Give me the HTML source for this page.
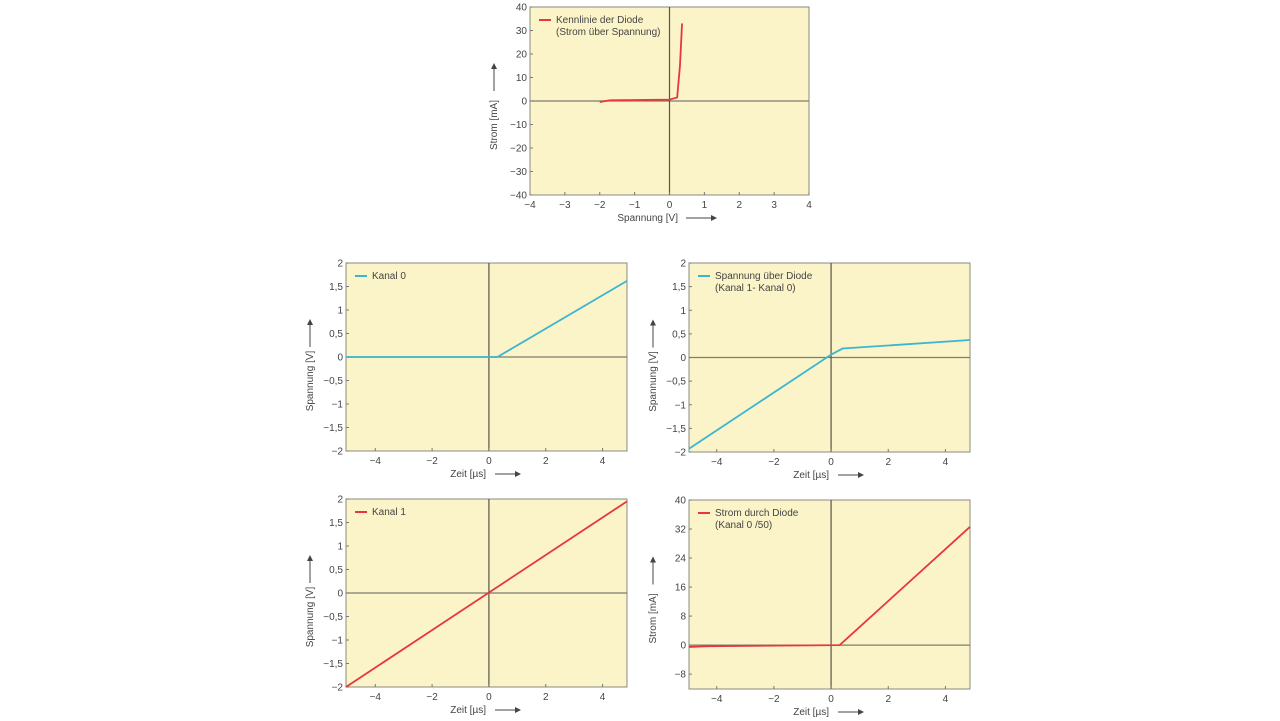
<!DOCTYPE html>
<html><head><meta charset="utf-8"><style>
html,body{margin:0;padding:0;background:#fff;}
svg{display:block;font-family:"Liberation Sans Narrow","Liberation Sans",sans-serif;}
</style></head><body>
<svg id="s" width="1280" height="721" xmlns="http://www.w3.org/2000/svg"></svg>
<script>
const s=document.getElementById('s');let h='';
const RED='#e8363f',BLUE='#3cb6d0';
function chart(o){
 const {L,R,T,B,xmin,xmax,ymin,ymax,xt,yt,xlab,ylab,leg,col,pts,te,a0,a1}=o;
 const X=v=>L+(v-xmin)/(xmax-xmin)*(R-L), Y=v=>T+(ymax-v)/(ymax-ymin)*(B-T);
 h+=`<rect x="${L}" y="${T}" width="${R-L}" height="${B-T}" fill="#fbf4c8" stroke="#8a8a80" stroke-width="1"/>`;
 h+=`<line x1="${L}" x2="${R}" y1="${Y(0)}" y2="${Y(0)}" stroke="#7c7c70" stroke-width="1.2"/>`;
 h+=`<line x1="${X(0)}" x2="${X(0)}" y1="${T}" y2="${B}" stroke="#55554c" stroke-width="1.2"/>`;
 for(const t of xt){const x=X(t);h+=`<line x1="${x}" x2="${x}" y1="${B}" y2="${B-3}" stroke="#777"/>`;
  h+=`<text x="${x}" y="${B+13}" font-size="10" text-anchor="middle" fill="#444">${String(t).replace('-','−')}</text>`;}
 for(const t of yt){const y=Y(t);h+=`<line x1="${L}" x2="${L+3}" y1="${y}" y2="${y}" stroke="#777"/>`;
  h+=`<text x="${L-3}" y="${y+3.5}" font-size="10" text-anchor="end" fill="#444">${String(t).replace('-','−').replace('.',',')}</text>`;}
 h+=`<text x="${te}" y="${B+26}" font-size="10" text-anchor="end" fill="#444">${xlab}</text>`;
 h+=`<line x1="${a0}" x2="${a1-6}" y1="${B+23}" y2="${B+23}" stroke="#444"/><path d="M${a1-6} ${B+20}L${a1} ${B+23}L${a1-6} ${B+26}Z" fill="#444"/>`;
 const lx=L-36, cy=(T+B)/2;
 h+=`<text transform="translate(${lx+3},${cy+24}) rotate(-90)" font-size="10" text-anchor="middle" fill="#444">${ylab}</text>`;
 h+=`<line x1="${lx}" x2="${lx}" y1="${cy-10}" y2="${cy-32}" stroke="#444"/><path d="M${lx-3} ${cy-32}L${lx} ${cy-38}L${lx+3} ${cy-32}Z" fill="#444"/>`;
 h+=`<line x1="${L+9}" x2="${L+21}" y1="${T+13}" y2="${T+13}" stroke="${col}" stroke-width="2"/>`;
 leg.forEach((l,i)=>h+=`<text x="${L+26}" y="${T+16+i*12}" font-size="10" fill="#444">${l}</text>`);
 h+=`<polyline points="${pts.map(p=>X(p[0])+','+Y(p[1])).join(' ')}" fill="none" stroke="${col}" stroke-width="1.8"/>`;
}
chart({L:530,R:809,T:7,B:195,xmin:-4,xmax:4,ymin:-40,ymax:40,xt:[-4,-3,-2,-1,0,1,2,3,4],yt:[40,30,20,10,0,-10,-20,-30,-40],
 xlab:'Spannung [V]',ylab:'Strom [mA]',leg:['Kennlinie der Diode','(Strom über Spannung)'],col:RED,te:678,a0:686,a1:717,
 pts:[[-2,-0.4],[-1.7,0.3],[0,0.6],[0.22,1.5],[0.3,15],[0.36,33]]});
const xt5=[-4,-2,0,2,4], yv=[2,1.5,1,0.5,0,-0.5,-1,-1.5,-2];
chart({L:346,R:627,T:263,B:451,xmin:-5.03,xmax:4.86,ymin:-2,ymax:2,xt:xt5,yt:yv,xlab:'Zeit [µs]',ylab:'Spannung [V]',te:486,a0:495,a1:521,
 leg:['Kanal 0'],col:BLUE,pts:[[-5.03,0],[0.3,0],[4.86,1.62]]});
chart({L:689,R:970,T:263,B:452,xmin:-4.97,xmax:4.86,ymin:-2,ymax:2,xt:xt5,yt:yv,xlab:'Zeit [µs]',ylab:'Spannung [V]',te:829,a0:838,a1:864,
 leg:['Spannung über Diode','(Kanal 1- Kanal 0)'],col:BLUE,pts:[[-4.97,-1.93],[0,0.06],[0.4,0.19],[4.86,0.37]]});
chart({L:346,R:627,T:499,B:687,xmin:-5.03,xmax:4.86,ymin:-2,ymax:2,xt:xt5,yt:yv,xlab:'Zeit [µs]',ylab:'Spannung [V]',te:486,a0:495,a1:521,
 leg:['Kanal 1'],col:RED,pts:[[-5.03,-2],[4.86,1.95]]});
chart({L:689,R:970,T:500,B:689,xmin:-4.97,xmax:4.86,ymin:-12.1,ymax:40,xt:xt5,yt:[40,32,24,16,8,0,-8],xlab:'Zeit [µs]',ylab:'Strom [mA]',te:829,a0:838,a1:864,
 leg:['Strom durch Diode','(Kanal 0 /50)'],col:RED,pts:[[-4.97,-0.5],[-4.3,-0.3],[0.3,0],[4.86,32.6]]});
s.innerHTML=h;
</script>
</body></html>
